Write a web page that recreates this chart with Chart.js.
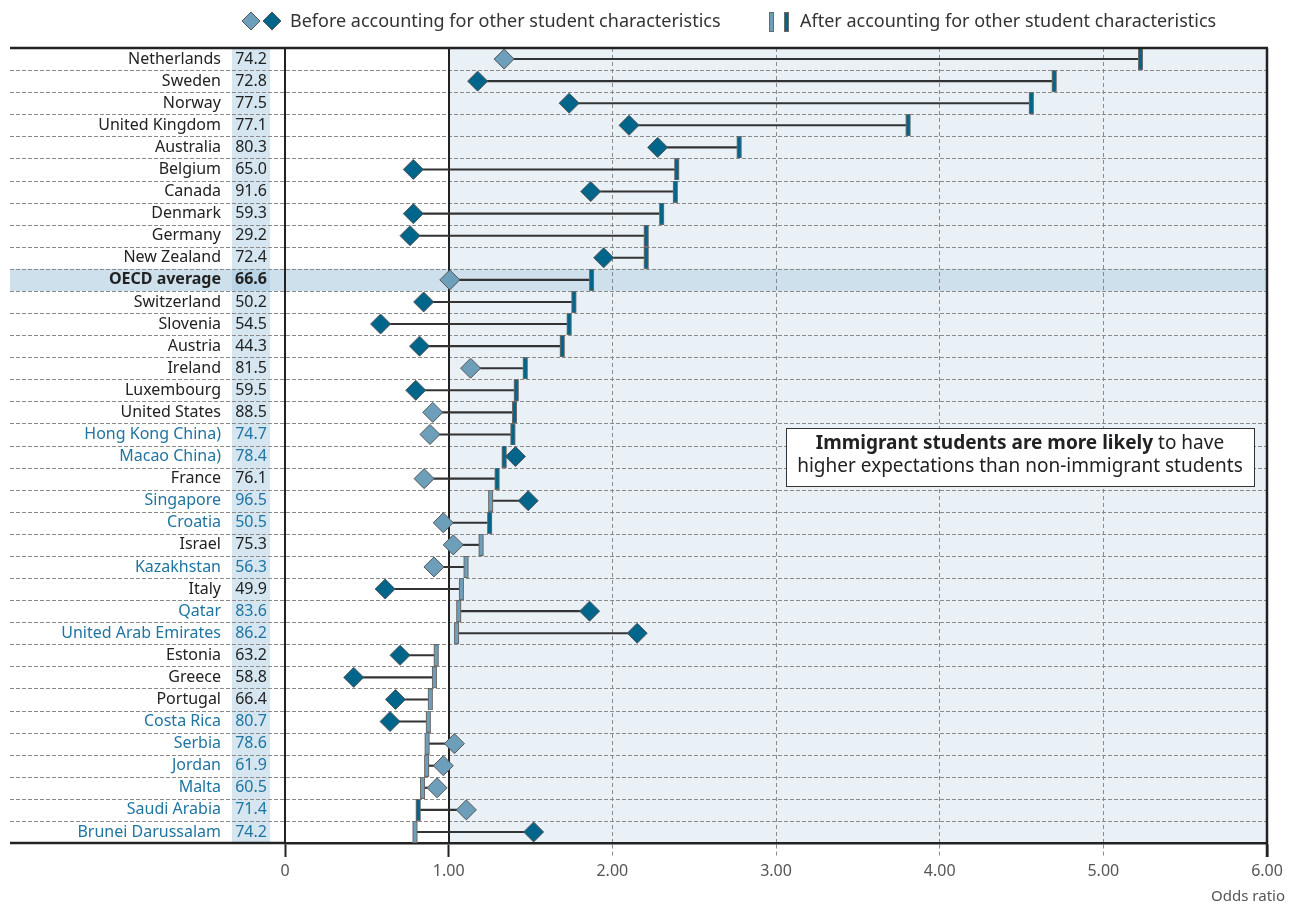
<!DOCTYPE html>
<html>
<head>
<meta charset="utf-8">
<script src="https://cdn.jsdelivr.net/npm/chart.js@4.4.1/dist/chart.umd.min.js"></script>
<style>
  html, body { margin: 0; padding: 0; background: #ffffff; }
  #wrap { width: 1290px; height: 906px; position: relative; }
</style>
</head>
<body>
<div id="wrap"><canvas id="c"></canvas></div>
<script>
const countries = ["Netherlands","Sweden","Norway","United Kingdom","Australia","Belgium","Canada","Denmark","Germany","New Zealand","OECD average","Switzerland","Slovenia","Austria","Ireland","Luxembourg","United States","Hong Kong China)","Macao China)","France","Singapore","Croatia","Israel","Kazakhstan","Italy","Qatar","United Arab Emirates","Estonia","Greece","Portugal","Costa Rica","Serbia","Jordan","Malta","Saudi Arabia","Brunei Darussalam"];
const shareValues = [74.2,72.8,77.5,77.1,80.3,65.0,91.6,59.3,29.2,72.4,66.6,50.2,54.5,44.3,81.5,59.5,88.5,74.7,78.4,76.1,96.5,50.5,75.3,56.3,49.9,83.6,86.2,63.2,58.8,66.4,80.7,78.6,61.9,60.5,71.4,74.2];
const beforeOR = [1.339,1.177,1.736,2.102,2.277,0.784,1.868,0.784,0.764,1.947,1.007,0.847,0.584,0.822,1.134,0.799,0.903,0.886,1.408,0.850,1.486,0.967,1.028,0.910,0.612,1.861,2.152,0.703,0.420,0.675,0.642,1.035,0.967,0.929,1.108,1.519];
const afterOR = [5.227,4.700,4.560,3.807,2.775,2.393,2.385,2.301,2.207,2.207,1.873,1.765,1.736,1.694,1.468,1.413,1.402,1.392,1.339,1.296,1.256,1.250,1.198,1.106,1.078,1.061,1.048,0.924,0.913,0.888,0.876,0.868,0.865,0.840,0.814,0.794];
const beforeSig = [0,1,1,1,1,1,1,1,1,1,0,1,1,1,0,1,0,0,1,0,1,0,0,0,1,1,1,1,1,1,1,0,0,0,0,1];
const afterSig  = [1,1,1,1,1,1,1,1,1,1,1,1,1,1,1,1,1,1,1,1,0,1,0,0,0,0,0,0,0,0,0,0,0,0,1,0];
const partner   = [0,0,0,0,0,0,0,0,0,0,0,0,0,0,0,0,0,1,1,0,1,1,0,1,0,1,1,0,0,0,1,1,1,1,1,1];
const xTicks = [0,1,2,3,4,5,6];
const legendLabels = ["Before accounting for other student characteristics","After accounting for other student characteristics"];
const noteBold = "Immigrant students are more likely";
const noteRest1 = " to have";
const noteLine2 = "higher expectations than non-immigrant students";
const axisTitle = "Odds ratio";

const DARK = "#00658a", LIGHT = "#6d9fbb", TEAL = "#1f74a0", TXT = "#222222";
const FONT = "'Noto Sans', 'DejaVu Sans', sans-serif";

function barMarker(fill) {
  const c = document.createElement("canvas");
  c.width = 7; c.height = 22;
  const g = c.getContext("2d");
  g.fillStyle = fill; g.fillRect(1, 1, 5, 20);
  g.strokeStyle = "#6a6a6a"; g.lineWidth = 1; g.strokeRect(1.5, 0.5, 4, 21);
  return c;
}
const barDark = barMarker(DARK), barLight = barMarker(LIGHT);

function diamond(g, x, y, r, fill) {
  g.beginPath();
  g.moveTo(x, y - r); g.lineTo(x + r, y); g.lineTo(x, y + r); g.lineTo(x - r, y); g.closePath();
  g.fillStyle = fill; g.fill();
  g.strokeStyle = "#555"; g.lineWidth = 1; g.stroke();
}

const decor = {
  id: "decor",
  beforeDraw(chart) {
    const g = chart.ctx, a = chart.chartArea, xs = chart.scales.x, ys = chart.scales.y;
    const n = countries.length;
    const yc = i => ys.getPixelForValue(i);
    const bound = i => i <= 0 ? a.top : (i >= n ? a.bottom : (yc(i - 1) + yc(i)) / 2);
    g.save();
    g.fillStyle = "#fff"; g.fillRect(0, 0, chart.width, chart.height);
    g.fillStyle = "#e9f1f7";
    g.fillRect(xs.getPixelForValue(1), a.top, xs.getPixelForValue(6) - xs.getPixelForValue(1), a.bottom - a.top);
    g.fillStyle = "#d5e6f1";
    g.fillRect(232, a.top, 38, a.bottom - a.top);
    const oi = countries.indexOf("OECD average");
    g.fillStyle = "#cde0ec";
    g.fillRect(10, bound(oi), a.right - 10, bound(oi + 1) - bound(oi));
    g.fillStyle = "#b9d4e7";
    g.fillRect(232, bound(oi), 38, bound(oi + 1) - bound(oi));
    g.strokeStyle = "#8a8a8a"; g.lineWidth = 1; g.setLineDash([4, 2]);
    for (let i = 1; i < n; i++) {
      const y = Math.round(bound(i)) + 0.5;
      g.beginPath(); g.moveTo(10, y); g.lineTo(a.right, y); g.stroke();
    }
    g.setLineDash([]);
    g.restore();
  },
  beforeDatasetsDraw(chart) {
    const g = chart.ctx, a = chart.chartArea, xs = chart.scales.x;
    g.save();
    const x1 = Math.round(xs.getPixelForValue(1));
    g.strokeStyle = "#222"; g.lineWidth = 2;
    g.beginPath(); g.moveTo(x1, a.top); g.lineTo(x1, a.bottom); g.stroke();
    g.restore();
  },
  afterDraw(chart) {
    const g = chart.ctx, a = chart.chartArea, ys = chart.scales.y;
    g.save();
    g.strokeStyle = "#222"; g.lineWidth = 2.5;
    g.beginPath(); g.moveTo(10, a.top); g.lineTo(a.right + 1, a.top); g.stroke();
    g.beginPath(); g.moveTo(10, a.bottom); g.lineTo(a.left, a.bottom); g.stroke();
    g.beginPath(); g.moveTo(a.right, a.top); g.lineTo(a.right, a.bottom + 14); g.stroke();
    g.textAlign = "center"; g.textBaseline = "middle";
    countries.forEach((c, i) => {
      const bold = c === "OECD average";
      g.font = (bold ? "bold " : "") + "16px " + FONT;
      g.fillStyle = partner[i] ? TEAL : TXT;
      g.fillText(shareValues[i].toFixed(1), 251, ys.getPixelForValue(i));
    });
    diamond(g, 251, 21, 9, LIGHT);
    diamond(g, 272, 21, 9, DARK);
    g.drawImage(barLight, 768, 12, 7, 20);
    g.drawImage(barDark, 783, 12, 7, 20);
    g.font = "18px " + FONT; g.fillStyle = "#333"; g.textAlign = "left";
    g.fillText(legendLabels[0], 290, 22);
    g.fillText(legendLabels[1], 800, 22);
    g.fillStyle = "#fff"; g.fillRect(786, 428, 468, 58);
    g.strokeStyle = "#333"; g.lineWidth = 1; g.strokeRect(786.5, 428.5, 468, 58);
    g.fillStyle = "#222";
    g.font = "bold 19px " + FONT;
    const wb = g.measureText(noteBold).width;
    g.font = "19px " + FONT;
    const wr = g.measureText(noteRest1).width;
    let sx = 1020 - (wb + wr) / 2;
    g.textAlign = "left";
    g.font = "bold 19px " + FONT; g.fillText(noteBold, sx, 444);
    g.font = "19px " + FONT; g.fillText(noteRest1, sx + wb, 444);
    g.textAlign = "center"; g.fillText(noteLine2, 1020, 467);
    g.font = "15px " + FONT; g.fillStyle = "#555"; g.textAlign = "right";
    g.fillText(axisTitle, 1285, 897);
    g.restore();
  }
};

new Chart(document.getElementById("c"), {
  data: {
    labels: countries,
    datasets: [
      {
        type: "bar", label: "connector", indexAxis: "y", order: 3,
        data: beforeOR.map((b, i) => [b, afterOR[i]]),
        backgroundColor: "#333", borderWidth: 0, barThickness: 1.5, grouped: false
      },
      {
        type: "line", label: legendLabels[1], indexAxis: "y", order: 2,
        data: afterOR, showLine: false,
        pointStyle: afterSig.map(s => s ? barDark : barLight),
        pointRadius: 10, pointHoverRadius: 10
      },
      {
        type: "line", label: legendLabels[0], indexAxis: "y", order: 1,
        data: beforeOR, showLine: false, pointStyle: "rectRot",
        pointRadius: 10, pointHoverRadius: 10,
        pointBackgroundColor: beforeSig.map(s => s ? DARK : LIGHT),
        pointBorderColor: "#555", pointBorderWidth: 1
      }
    ]
  },
  options: {
    indexAxis: "y",
    responsive: true, maintainAspectRatio: false, animation: false,
    layout: { padding: { left: 10, right: 23, top: 48, bottom: 0 } },
    plugins: { legend: { display: false }, tooltip: { enabled: false } },
    scales: {
      x: {
        type: "linear", min: 0, max: 6, position: "bottom",
        afterBuildTicks: s => { s.ticks = xTicks.map(v => ({ value: v })); },
        afterFit: s => { s.height = 63; s.paddingLeft = 0; s.paddingRight = 0; },
        ticks: {
          callback: v => v === 0 ? "0" : Number(v).toFixed(2),
          color: "#555", font: { family: FONT, size: 16 }, padding: 5, maxRotation: 0
        },
        grid: {
          color: c => (c.tick && c.tick.value >= 2 && c.tick.value <= 5) ? "#8a8a8a" : "rgba(0,0,0,0)",
          lineWidth: 1, tickLength: 14,
          tickColor: c => (c.tick && c.tick.value >= 2 && c.tick.value <= 5) ? "#8a8a8a" : "#222",
          tickWidth: c => (c.tick && c.tick.value >= 2 && c.tick.value <= 5) ? 1 : 2,
          tickBorderDash: c => (c.tick && c.tick.value >= 2 && c.tick.value <= 5) ? [4, 3] : []
        },
        border: { display: true, color: "#222", width: 2.5, dash: [4, 3] }
      },
      y: {
        type: "category", position: "left",
        afterFit: s => { s.width = 275; s.paddingTop = 0; s.paddingBottom = 0; },
        ticks: {
          padding: 64, autoSkip: false,
          color: c => partner[c.index] ? TEAL : TXT,
          font: c => ({ family: FONT, size: 16, weight: countries[c.index] === "OECD average" ? "bold" : "normal" })
        },
        grid: { display: false, drawTicks: false },
        border: { display: true, color: "#222", width: 2 }
      }
    }
  },
  plugins: [decor]
});
</script>
</body>
</html>
